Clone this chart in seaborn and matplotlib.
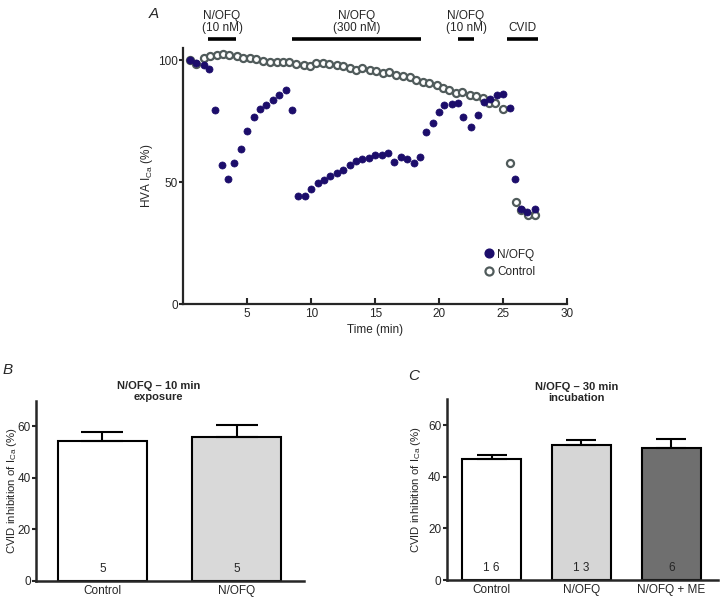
import matplotlib
matplotlib.use('Agg')
import matplotlib.pyplot as plt
from matplotlib.lines import Line2D
import seaborn as sns
import pandas as pd

sns.set_style('ticks')
plt.rcParams['font.family'] = ['Liberation Sans', 'DejaVu Sans']
plt.rcParams['mathtext.fontset'] = 'custom'
plt.rcParams['mathtext.rm'] = 'Liberation Sans'

# panel A: time course (min, % of initial HVA ICa)
nofq_time = [0.5, 1.0, 1.6, 2.0, 2.5, 3.0, 3.5, 4.0, 4.5, 5.0, 5.5, 6.0, 6.5, 7.0,
             7.5, 8.0, 8.5, 9.0, 9.5, 10.0, 10.5, 11.0, 11.5, 12.0, 12.5, 13.0,
             13.5, 14.0, 14.5, 15.0, 15.5, 16.0, 16.5, 17.0, 17.5, 18.0, 18.5,
             19.0, 19.5, 20.0, 20.4, 21.0, 21.5, 21.9, 22.5, 23.0, 23.5, 24.0,
             24.5, 25.0, 25.5, 25.9, 26.4, 26.9, 27.5]
nofq_ica = [100, 98.9, 98.0, 96.6, 79.5, 57.0, 51.4, 57.7, 63.8, 70.9, 76.8, 79.9,
            81.6, 83.9, 85.7, 88.0, 79.5, 44.3, 44.3, 47.0, 49.5, 50.8, 52.5, 53.6,
            54.9, 57.0, 58.7, 59.3, 60.0, 61.3, 61.1, 62.0, 58.3, 60.4, 59.7, 57.9,
            60.4, 70.4, 74.3, 78.8, 81.6, 82.0, 82.5, 76.8, 72.7, 77.7, 82.9, 84.3,
            85.7, 86.3, 80.6, 51.1, 38.8, 37.8, 38.8]

ctrl_time = [0.5, 1.0, 1.6, 2.1, 2.6, 3.1, 3.6, 4.2, 4.7, 5.2, 5.7, 6.2, 6.8, 7.3,
             7.8, 8.3, 8.8, 9.4, 9.9, 10.4, 10.9, 11.4, 12.0, 12.5, 13.0, 13.5,
             14.0, 14.6, 15.1, 15.6, 16.1, 16.6, 17.2, 17.7, 18.2, 18.7, 19.2,
             19.8, 20.3, 20.8, 21.3, 21.8, 22.4, 22.9, 23.4, 23.9, 24.4, 25.0,
             25.5, 26.0, 26.4, 26.95, 27.5]
ctrl_ica = [100, 98.6, 101.1, 101.6, 102.0, 102.7, 102.0, 101.6, 101.1, 101.1,
            100.5, 99.7, 99.2, 99.2, 99.2, 99.2, 98.6, 98.1, 97.5, 98.9, 98.9, 98.6,
            98.1, 97.5, 96.7, 96.2, 97.0, 96.2, 95.6, 94.8, 95.1, 94.0, 93.4, 93.2,
            92.1, 91.0, 90.7, 89.8, 88.8, 88.0, 86.6, 86.9, 85.9, 85.5, 84.7, 82.5,
            82.3, 80.2, 57.7, 41.9, 38.5, 36.5, 36.5]

drug_labels = ['N/OFQ\n(10 nM)', 'N/OFQ\n(300 nM)', 'N/OFQ\n(10 nM)', 'CVID']
drug_start = [1.95, 8.5, 21.5, 25.3]
drug_end = [4.1, 18.6, 22.7, 27.7]

# panel B: 10 min exposure
b_groups = ['Control', 'N/OFQ']
b_mean = [54.2, 55.9]
b_sem = [3.8, 4.6]
b_n = ['5', '5']

# panel C: 30 min incubation
c_groups = ['Control', 'N/OFQ', 'N/OFQ + ME']
c_mean = [47.0, 52.3, 51.0]
c_sem = [1.4, 1.8, 3.5]
c_n = ['1 6', '1 3', '6']

navy = '#1c0d6b'
grey = '#505b5b'
fs = 8.5

fig = plt.figure(figsize=(7.2, 5.98), dpi=100)

# ---- A ----
axA = fig.add_axes([0.2546, 0.4916, 0.533, 0.428])
sns.scatterplot(x=ctrl_time, y=ctrl_ica, ax=axA, s=26, color='white',
                edgecolor=grey, linewidth=1.6, zorder=3)
sns.scatterplot(x=nofq_time, y=nofq_ica, ax=axA, s=26, color=navy,
                edgecolor=navy, linewidth=0.5, zorder=4)
axA.set_xlim(0, 30)
axA.set_ylim(0, 105)
axA.set_xticks([5, 10, 15, 20, 25, 30])
axA.set_yticks([0, 50, 100])
axA.tick_params(axis='x', direction='in', length=4, width=1.5, labelsize=fs, pad=3)
axA.tick_params(axis='y', direction='out', length=3, width=1.5, labelsize=fs, pad=1)
axA.set_xlabel('Time (min)', fontsize=fs, labelpad=3)
axA.set_ylabel(r'HVA I$_{\rm Ca}$ (%)', fontsize=fs, labelpad=2)
for sp in ['left', 'bottom']:
    axA.spines[sp].set_linewidth(1.6)
sns.despine(ax=axA)

for lab, t0, t1 in zip(drug_labels, drug_start, drug_end):
    axA.plot([t0, t1], [108.9, 108.9], color='black', lw=2.6,
             solid_capstyle='butt', clip_on=False)
    axA.text((t0 + t1) / 2, 110.6, lab, ha='center', va='bottom',
             fontsize=fs, linespacing=1.05, clip_on=False)

handles = [Line2D([], [], ls='', marker='o', markersize=6.3, mfc=navy, mec=navy),
           Line2D([], [], ls='', marker='o', markersize=5.8, mfc='white', mec=grey, mew=1.6)]
axA.legend(handles, ['N/OFQ', 'Control'], loc='upper left',
           bbox_to_anchor=(0.765, 0.235), frameon=False, fontsize=fs,
           handletextpad=0.1, handlelength=1.2, labelspacing=0.45, borderaxespad=0)
fig.text(0.207, 0.988, 'A', fontsize=11, style='italic', va='top')


def bar_panel(ax, groups, means, sems, ns, colors, xlim, capsize, label_x):
    df = pd.DataFrame({'group': groups, 'mean': means})
    sns.barplot(data=df, x='group', y='mean', hue='group', palette=colors,
                width=0.66, edgecolor='black', linewidth=1.5, legend=False,
                ax=ax, zorder=2)
    ax.errorbar(range(len(groups)), means, yerr=[[0] * len(sems), sems],
                fmt='none', ecolor='black', elinewidth=1.5, capthick=1.5,
                capsize=capsize, zorder=3)
    for i, n in enumerate(ns):
        ax.text(i, 4.6, n, ha='center', va='center', fontsize=fs, zorder=4)
    ax.set_xlim(*xlim)
    ax.set_ylim(0, 70)
    ax.set_yticks([0, 20, 40, 60])
    ax.set_xlabel('')
    ax.set_ylabel(r'CVID inhibition of I$_{\rm Ca}$ (%)', fontsize=8.2)
    ax.yaxis.set_label_coords(label_x, 0.5)
    ax.tick_params(axis='y', direction='out', length=3, width=1.5, labelsize=fs, pad=1)
    ax.tick_params(axis='x', length=0, labelsize=fs, pad=3)
    for sp in ['left', 'bottom']:
        ax.spines[sp].set_linewidth(1.8)
    sns.despine(ax=ax)


# ---- B ----
axB = fig.add_axes([0.0505, 0.029, 0.372, 0.301])
bar_panel(axB, b_groups, b_mean, b_sem, b_n, ['white', '#d9d9d9'], (-0.49, 1.5), 15, -0.066)
axB.text(0.455, 1.05, 'N/OFQ \u2013 10 min\nexposure', transform=axB.transAxes,
         ha='center', va='center', fontsize=8, fontweight='bold', linespacing=1.15)
fig.text(0.004, 1 - 370 / 598, 'B', fontsize=11, style='italic', va='center')

# ---- C ----
axC = fig.add_axes([0.6204, 0.030, 0.3767, 0.302])
bar_panel(axC, c_groups, c_mean, c_sem, c_n, ['white', '#d6d6d6', '#6f6f6f'], (-0.5, 2.52), 11, -0.088)
axC.text(0.479, 1.037, 'N/OFQ \u2013 30 min\nincubation', transform=axC.transAxes,
         ha='center', va='center', fontsize=8, fontweight='bold', linespacing=1.15)
fig.text(0.567, 1 - 376 / 598, 'C', fontsize=11, style='italic', va='center')

fig.savefig('out.png', dpi=100)
